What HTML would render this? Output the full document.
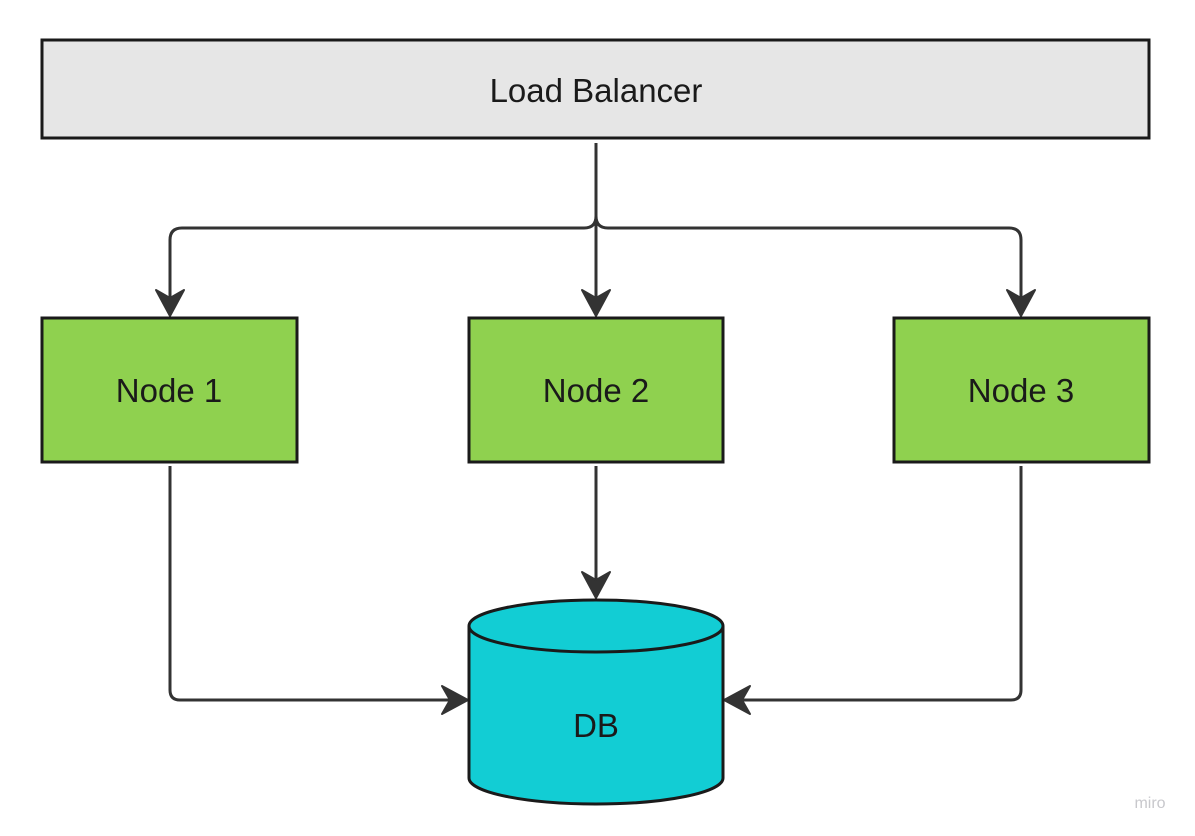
<!DOCTYPE html>
<html><head><meta charset="utf-8"><style>
html,body{margin:0;padding:0;background:#fff;}
svg{display:block;}
text{font-family:"Liberation Sans",sans-serif;fill:#1a1a1a;}
</style></head><body>
<svg width="1195" height="836" viewBox="0 0 1195 836" xmlns="http://www.w3.org/2000/svg">
<g stroke="#333" stroke-width="3" fill="none">
<path d="M596 143 V300"/>
<path d="M170 300 V240 Q170 228 182 228 H584 Q596 228 596 216 Q596 228 608 228 H1009 Q1021 228 1021 240 V300"/>
<path d="M596 466 V582"/>
<path d="M170 466 V690 Q170 700 180 700 H452"/>
<path d="M1021 466 V690 Q1021 700 1011 700 H740"/>
</g>
<g fill="#333" stroke="#333" stroke-width="2" stroke-linejoin="round">
<path d="M156 290 L170 298 L184 290 L170 316 Z"/>
<path d="M582 290 L596 298 L610 290 L596 316 Z"/>
<path d="M1007 290 L1021 298 L1035 290 L1021 316 Z"/>
<path d="M582 572 L596 580 L610 572 L596 598 Z"/>
<path d="M442 686 L450 700 L442 714 L468 700 Z"/>
<path d="M750 686 L742 700 L750 714 L724 700 Z"/>
</g>
<rect x="42" y="40" width="1107" height="98" fill="#e6e6e6" stroke="#1a1a1a" stroke-width="3"/>
<text x="596" y="102" font-size="33" text-anchor="middle">Load Balancer</text>
<rect x="42" y="318" width="255" height="144" fill="#8fd14f" stroke="#1a1a1a" stroke-width="3"/>
<rect x="469" y="318" width="254" height="144" fill="#8fd14f" stroke="#1a1a1a" stroke-width="3"/>
<rect x="894" y="318" width="255" height="144" fill="#8fd14f" stroke="#1a1a1a" stroke-width="3"/>
<text x="169" y="402" font-size="33" text-anchor="middle">Node 1</text>
<text x="596" y="402" font-size="33" text-anchor="middle">Node 2</text>
<text x="1021" y="402" font-size="33" text-anchor="middle">Node 3</text>
<path d="M469 626 V778 A127 26 0 0 0 723 778 V626 A127 26 0 0 0 469 626 Z" fill="#12cdd4" stroke="#1a1a1a" stroke-width="3"/>
<path d="M469 626 A127 26 0 0 0 723 626" fill="none" stroke="#1a1a1a" stroke-width="3"/>
<text x="596" y="737" font-size="33" text-anchor="middle">DB</text>
<text x="1150" y="808" font-size="16" text-anchor="middle" style="fill:#c8c8cc">miro</text>
</svg>
</body></html>
